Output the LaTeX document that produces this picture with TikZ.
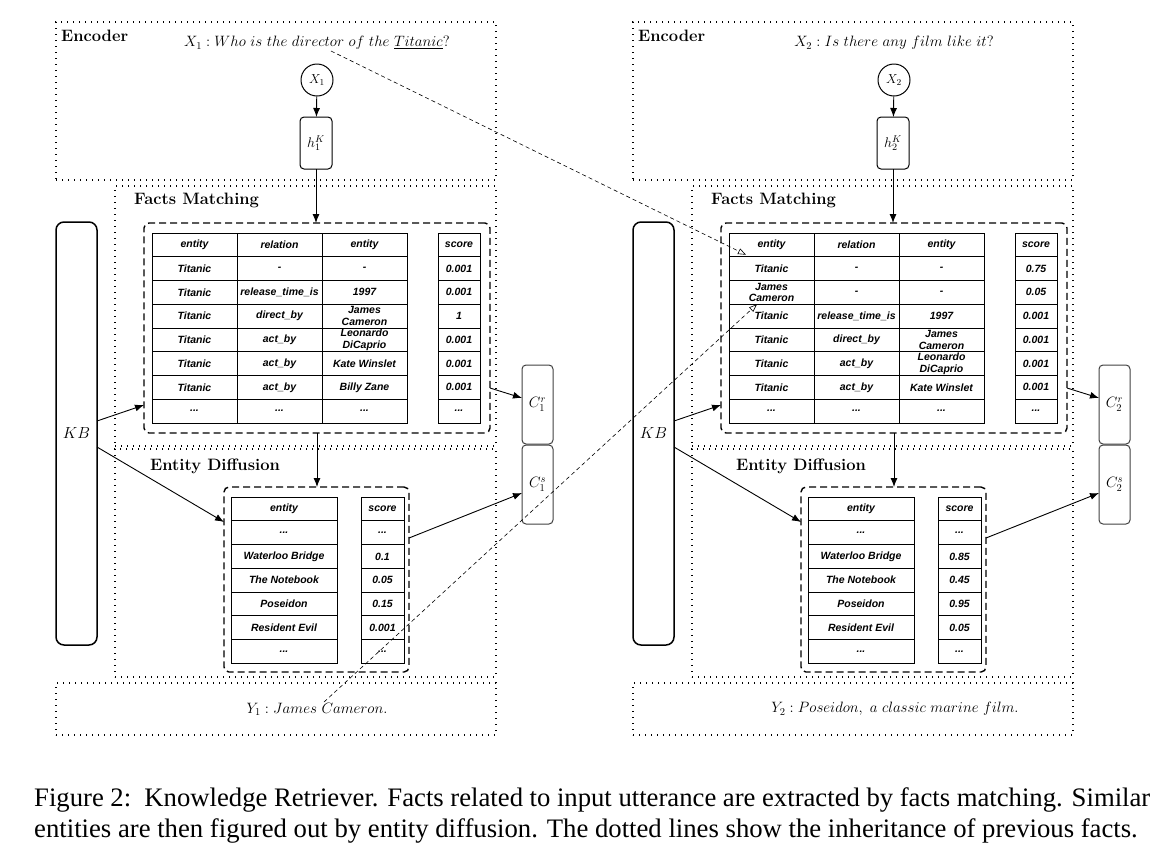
\RequirePackage{fix-cm}
\documentclass[tikz,border=0pt]{standalone}
\usepackage{fontspec}
\newfontfamily\tabfont{Liberation Sans}
\newfontfamily\capfont{Liberation Serif}
\usetikzlibrary{arrows.meta,positioning}
\newcommand\etcdots{...}
\begin{document}
\begin{tikzpicture}[x=1pt,y=-1pt,
	dotbox/.style={draw,line width=1.3pt,dash pattern=on 1.3pt off 4.7pt,inner sep=0pt,outer sep=0pt},
	dashbox/.style={draw,line width=1.4pt,dash pattern=on 7pt off 4pt,rounded corners=5pt,inner sep=0pt,outer sep=0pt},
	cellseg/.style={draw,line width=1pt,minimum height=23.75pt,inner sep=0pt,outer sep=0pt,align=center,
		font=\tabfont\bfseries\itshape\fontsize{10.5}{11.5}\selectfont},
	roundbox/.style={draw,line width=1pt,rounded corners=4pt,inner sep=0pt,outer sep=0pt},
	boxtitle/.style={anchor=base west,inner sep=0pt,font=\bfseries\fontsize{16.5}{18}\selectfont},
	mathtext/.style={inner sep=0pt,font=\fontsize{15}{18}\selectfont},
	arr/.style={line width=0.9pt,-{Latex[length=9pt,width=7pt]}},
	inherit/.style={line width=0.6pt,dash pattern=on 4pt off 3pt,-{Triangle[open,length=8pt,width=6pt]}}]
	\useasboundingbox (0,0) rectangle (1174,852);

	% left turn
	\node[dotbox,minimum width=440pt,minimum height=158pt] (encL) at (276,101) {};
	\node[dotbox,minimum width=381pt,minimum height=260pt] (fmL) at (305.5,316) {};
	\node[dotbox,minimum width=381pt,minimum height=228pt] (edL) at (305.5,563) {};
	\node[dotbox,minimum width=440pt,minimum height=52pt] (outL) at (276,709) {};
	\node[boxtitle] (encLt) at (61,41) {Encoder};
	\node[boxtitle] (fmLt) at (134,204) {Facts Matching};
	\node[boxtitle] (edLt) at (150,470) {Entity Diffusion};
	\node[mathtext] (qL) at (317,43) {$X_1: Who\ is\ the\ director\ of\ the\ \underline{Titanic}?$};
	\node[mathtext] (yL) at (317,709) {$Y_1: James\ Cameron.$};
	\node[circle,draw,line width=1pt,minimum size=32pt,inner sep=0pt,font=\fontsize{13}{15}\selectfont] (xL) at (317,80) {$X_1$};
	\node[roundbox,minimum width=32pt,minimum height=52pt,font=\fontsize{14}{16}\selectfont] (hL) at (316,143) {$h_1^K$};
	\node[roundbox,line width=1.5pt,rounded corners=8pt,minimum width=41pt,minimum height=423pt,font=\fontsize{16}{18}\selectfont] (kbL) at (76.5,433.5) {$KB$};
	\node[roundbox,draw=black!75,minimum width=31pt,minimum height=79pt,font=\fontsize{15}{18}\selectfont] (crL) at (537.5,404.5) {$C_1^r$};
	\node[roundbox,draw=black!75,minimum width=31pt,minimum height=79pt,font=\fontsize{15}{18}\selectfont] (csL) at (537.5,484.5) {$C_1^s$};
	\node[dashbox,minimum width=346pt,minimum height=210pt] (factsL) at (317,328) {};
	\node[dashbox,minimum width=185pt,minimum height=185pt] (entL) at (316.5,579.5) {};
	\foreach \a/\b/\c/\d [count=\r] in {entity/relation/entity/score, Titanic/-/-/0.001,
		Titanic/release\_time\_is/1997/0.001, Titanic/direct\_by/{James\\Cameron}/1,
		Titanic/act\_by/{Leonardo\\DiCaprio}/0.001, Titanic/act\_by/Kate Winslet/0.001,
		Titanic/act\_by/Billy Zane/0.001, \etcdots/\etcdots/\etcdots/\etcdots}{
		\node[cellseg,minimum width=85pt] (fL-\r-1) at (194.5,{221.125+23.75*\r}) {\a};
		\node[cellseg,minimum width=85pt] (fL-\r-2) at (279.5,{221.125+23.75*\r}) {\b};
		\node[cellseg,minimum width=85pt] (fL-\r-3) at (364.5,{221.125+23.75*\r}) {\c};
		\node[cellseg,minimum width=42pt] (fL-\r-4) at (459,{221.125+23.75*\r}) {\d};
	}
	\foreach \a/\b [count=\r] in {entity/score, \etcdots/\etcdots, Waterloo Bridge/0.1,
		The Notebook/0.05, Poseidon/0.15, Resident Evil/0.001, \etcdots/\etcdots}{
		\node[cellseg,minimum width=106pt] (eL-\r-1) at (284,{485.125+23.75*\r}) {\a};
		\node[cellseg,minimum width=43pt] (eL-\r-2) at (382.5,{485.125+23.75*\r}) {\b};
	}
	\draw[arr] (xL) -- (hL);
	\draw[arr] (hL.south) -- (hL.south |- factsL.north);
	\draw[arr] (factsL.south) -- (factsL.south |- entL.north);
	\draw[arr] ([yshift=12.5pt]kbL.east) -- ([yshift=-77pt]factsL.west);
	\draw[arr] ([yshift=-13.5pt]kbL.east) -- ([yshift=57.5pt]entL.west);
	\draw[arr] ([yshift=-60pt]factsL.east) -- ([yshift=6.5pt]crL.west);
	\draw[arr] ([yshift=41.5pt]entL.east) -- ([yshift=-8.5pt]csL.west);

	% right turn
	\begin{scope}[xshift=577pt]
	\node[dotbox,minimum width=440pt,minimum height=158pt] (encR) at (276,101) {};
	\node[dotbox,minimum width=381pt,minimum height=260pt] (fmR) at (305.5,316) {};
	\node[dotbox,minimum width=381pt,minimum height=228pt] (edR) at (305.5,563) {};
	\node[dotbox,minimum width=440pt,minimum height=52pt] (outR) at (276,709) {};
	\node[boxtitle] (encRt) at (61,41) {Encoder};
	\node[boxtitle] (fmRt) at (134,204) {Facts Matching};
	\node[boxtitle] (edRt) at (159,470) {Entity Diffusion};
	\node[mathtext] (qR) at (317,43) {$X_2: Is\ there\ any\ film\ like\ it?$};
	\node[mathtext] (yR) at (318,709) {$Y_2: Poseidon,\ a\ classic\ marine\ film.$};
	\node[circle,draw,line width=1pt,minimum size=32pt,inner sep=0pt,font=\fontsize{13}{15}\selectfont] (xR) at (317,80) {$X_2$};
	\node[roundbox,minimum width=32pt,minimum height=52pt,font=\fontsize{14}{16}\selectfont] (hR) at (316,143) {$h_2^K$};
	\node[roundbox,line width=1.5pt,rounded corners=8pt,minimum width=41pt,minimum height=423pt,font=\fontsize{16}{18}\selectfont] (kbR) at (76.5,433.5) {$KB$};
	\node[roundbox,draw=black!75,minimum width=31pt,minimum height=79pt,font=\fontsize{15}{18}\selectfont] (crR) at (537.5,404.5) {$C_2^r$};
	\node[roundbox,draw=black!75,minimum width=31pt,minimum height=79pt,font=\fontsize{15}{18}\selectfont] (csR) at (537.5,484.5) {$C_2^s$};
	\node[dashbox,minimum width=346pt,minimum height=210pt] (factsR) at (317,328) {};
	\node[dashbox,minimum width=185pt,minimum height=185pt] (entR) at (316.5,579.5) {};
	\foreach \a/\b/\c/\d [count=\r] in {entity/relation/entity/score, Titanic/-/-/0.75,
		{James\\Cameron}/-/-/0.05, Titanic/release\_time\_is/1997/0.001,
		Titanic/direct\_by/{James\\Cameron}/0.001, Titanic/act\_by/{Leonardo\\DiCaprio}/0.001,
		Titanic/act\_by/Kate Winslet/0.001, \etcdots/\etcdots/\etcdots/\etcdots}{
		\node[cellseg,minimum width=85pt] (fR-\r-1) at (194.5,{221.125+23.75*\r}) {\a};
		\node[cellseg,minimum width=85pt] (fR-\r-2) at (279.5,{221.125+23.75*\r}) {\b};
		\node[cellseg,minimum width=85pt] (fR-\r-3) at (364.5,{221.125+23.75*\r}) {\c};
		\node[cellseg,minimum width=42pt] (fR-\r-4) at (459,{221.125+23.75*\r}) {\d};
	}
	\foreach \a/\b [count=\r] in {entity/score, \etcdots/\etcdots, Waterloo Bridge/0.85,
		The Notebook/0.45, Poseidon/0.95, Resident Evil/0.05, \etcdots/\etcdots}{
		\node[cellseg,minimum width=106pt] (eR-\r-1) at (284,{485.125+23.75*\r}) {\a};
		\node[cellseg,minimum width=43pt] (eR-\r-2) at (382.5,{485.125+23.75*\r}) {\b};
	}
	\draw[arr] (xR) -- (hR);
	\draw[arr] (hR.south) -- (hR.south |- factsR.north);
	\draw[arr] (factsR.south) -- (factsR.south |- entR.north);
	\draw[arr] ([yshift=12.5pt]kbR.east) -- ([yshift=-77pt]factsR.west);
	\draw[arr] ([yshift=-13.5pt]kbR.east) -- ([yshift=57.5pt]entR.west);
	\draw[arr] ([yshift=-60pt]factsR.east) -- ([yshift=6.5pt]crR.west);
	\draw[arr] ([yshift=41.5pt]entR.east) -- ([yshift=-8.5pt]csR.west);
	\end{scope}

	% facts handed on to the second turn
	\coordinate (dirL) at (331,51);
	\coordinate (camL) at (324,702);
	\draw[inherit] (dirL) -- ([xshift=17pt,yshift=2pt]fR-1-1.south west);
	\draw[inherit] (camL) -- ([xshift=-14.5pt]fR-3-1.south);

	\node[anchor=base west,inner sep=0pt,font=\capfont\fontsize{26.7}{31}\selectfont] (capa) at (34,806)
		{\makebox[1116pt][s]{Figure 2:\ \ Knowledge Retriever. Facts related to input utterance are extracted by facts matching. Similar}};
	\node[anchor=base west,inner sep=0pt,font=\capfont\fontsize{26.7}{31}\selectfont] (capb) at (34,837)
		{entities are then figured out by entity diffusion. The dotted lines show the inheritance of previous facts.};
\end{tikzpicture}
\end{document}
